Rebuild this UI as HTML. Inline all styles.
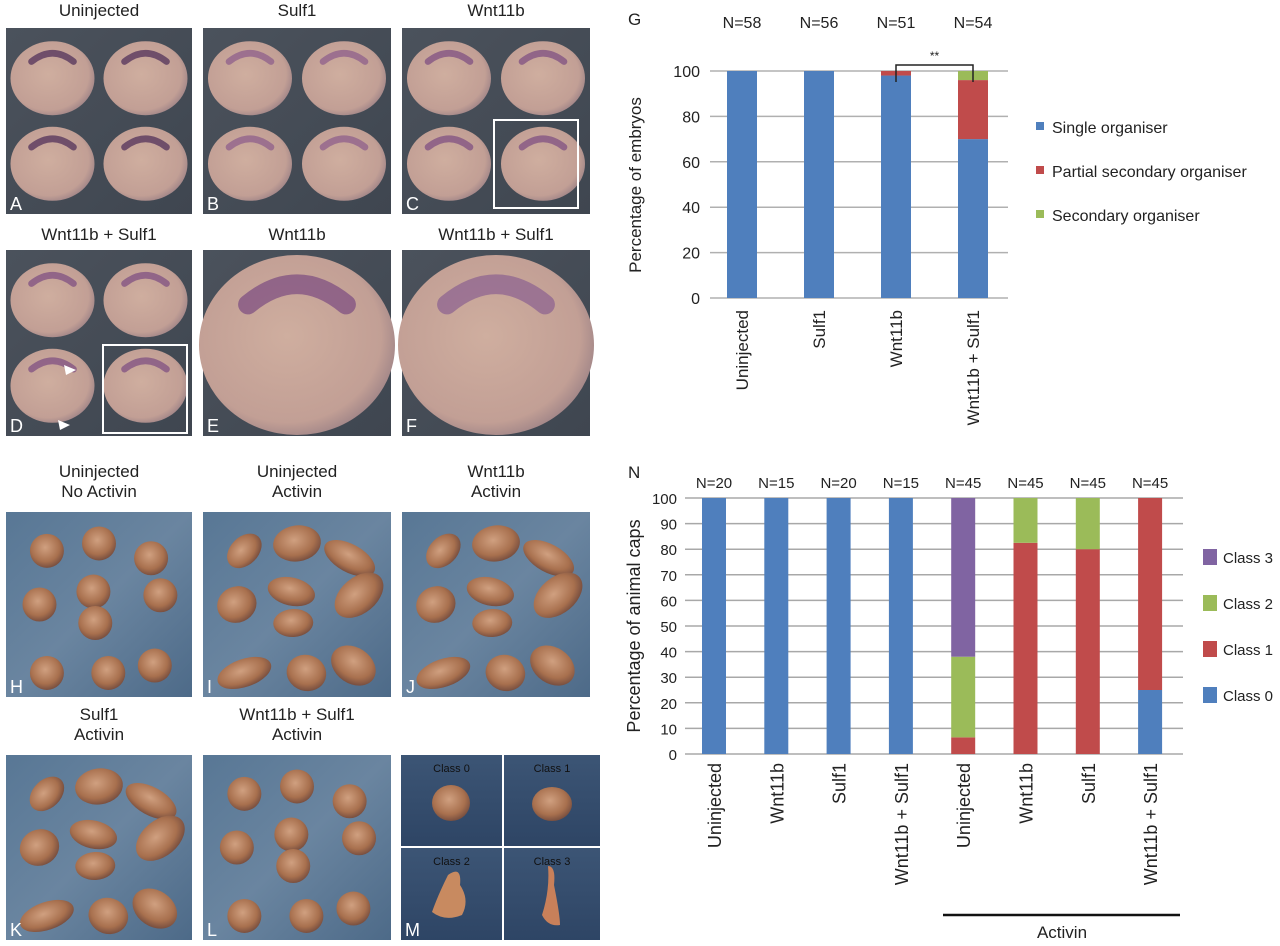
<!DOCTYPE html>
<html><head><meta charset="utf-8"><style>
html,body{margin:0;padding:0;background:#fff;}
svg{display:block;font-family:"Liberation Sans",Arial,sans-serif;}
</style></head><body>
<svg id="fig" width="1280" height="946" viewBox="0 0 1280 946" xmlns="http://www.w3.org/2000/svg">
<defs>
<radialGradient id="emb" cx="0.45" cy="0.45" r="0.6"><stop offset="0" stop-color="#cfae9f"/><stop offset="0.8" stop-color="#c29f95"/><stop offset="1" stop-color="#9a8085"/></radialGradient>
<linearGradient id="darkbg" x1="0" y1="0" x2="1" y2="1"><stop offset="0" stop-color="#4b525c"/><stop offset="1" stop-color="#3f4650"/></linearGradient>
<linearGradient id="bluebg" x1="0" y1="0" x2="1" y2="1"><stop offset="0" stop-color="#587795"/><stop offset="0.5" stop-color="#6a85a0"/><stop offset="1" stop-color="#4d6a88"/></linearGradient>
<radialGradient id="blob" cx="0.45" cy="0.4" r="0.6"><stop offset="0" stop-color="#d0a080"/><stop offset="0.7" stop-color="#a8704e"/><stop offset="1" stop-color="#7a5040"/></radialGradient>
<linearGradient id="mbg" x1="0" y1="0" x2="0" y2="1"><stop offset="0" stop-color="#3c5575"/><stop offset="1" stop-color="#2e4565"/></linearGradient>
</defs>
<g id="photos"></g>
<g id="chartG"></g>
<g id="chartN"></g>
</svg>
<script>
// ---- Chart G data ----
const gCategories = ["Uninjected","Sulf1","Wnt11b","Wnt11b + Sulf1"];
const gNs = ["N=58","N=56","N=51","N=54"];
const gSingle = [100,100,98,70];
const gPartial = [0,0,2,26];
const gSecondary = [0,0,0,4];
const gTicks = [0,20,40,60,80,100];
const gLegend = ["Single organiser","Partial secondary organiser","Secondary organiser"];
// ---- Chart N data ----
const nCategories = ["Uninjected","Wnt11b","Sulf1","Wnt11b + Sulf1","Uninjected","Wnt11b","Sulf1","Wnt11b + Sulf1"];
const nNs = ["N=20","N=15","N=20","N=15","N=45","N=45","N=45","N=45"];
const nClass0 = [100,100,100,100,0,0,0,25];
const nClass1 = [0,0,0,0,6.5,82.5,80,75];
const nClass2 = [0,0,0,0,31.5,17.5,20,0];
const nClass3 = [0,0,0,0,62,0,0,0];
const nTicks = [0,10,20,30,40,50,60,70,80,90,100];
const nLegend = ["Class 3","Class 2","Class 1","Class 0"];

const NS="http://www.w3.org/2000/svg";
function mk(parent,tag,attrs,text){const e=document.createElementNS(NS,tag);for(const k in attrs)e.setAttribute(k,attrs[k]);if(text!==undefined)e.textContent=text;parent.appendChild(e);return e;}
const BLUE="#4f7fbd",RED="#c04b4b",GREEN="#9bbb59",PURPLE="#8064a2";

// ---------- Chart G ----------
(function(){
  const g=document.getElementById('chartG');
  const x0=710,x1=1008,yTop=71,yBot=298,step=77,bw=30,cx0=742;
  const y=v=>yBot-(yBot-yTop)*v/100;
  const xc=i=>cx0+i*step;
  gTicks.forEach(t=>{
    const l=mk(g,'line',{x1:x0,x2:x1,y1:y(t),y2:y(t),stroke:'#b0b0b0','stroke-width':1.5});
    
    
    const tx=mk(g,'text',{x:700,y:y(t)+6,'text-anchor':'end','font-size':16,fill:'#222'},t);
    
    
  });
  gCategories.forEach((c,i)=>{
    let base=0;
    [[gSingle,BLUE,'single'],[gPartial,RED,'partial'],[gSecondary,GREEN,'secondary']].forEach(([arr,col,nm])=>{
      const v=arr[i]; if(v>0){
        const r=mk(g,'rect',{x:xc(i)-bw/2,y:y(base+v),width:bw,height:y(base)-y(base+v),fill:col});
        
        
      } base+=v;});
    const t=mk(g,'text',{transform:`translate(${xc(i)+6},${310}) rotate(-90)`,'text-anchor':'end','font-size':17,fill:'#222'},c);
    
    
    const n=mk(g,'text',{x:xc(i),y:28,'text-anchor':'middle','font-size':16,fill:'#222'},gNs[i]);
    
    
  });
  const at=mk(g,'text',{transform:'translate(641,185) rotate(-90)','text-anchor':'middle','font-size':17,fill:'#222'},'Percentage of embryos');
  
  
  const lt=mk(g,'text',{x:628,y:25,'font-size':17,fill:'#222'},'G');
  
  
  const br=mk(g,'path',{d:`M${xc(2)} 82 V65 H${xc(3)} V82`,fill:'none',stroke:'#222','stroke-width':1.5});
  
  
  const st=mk(g,'text',{x:(xc(2)+xc(3))/2,y:60,'text-anchor':'middle','font-size':12,fill:'#222'},'**');
  
  
  const cols=[BLUE,RED,GREEN];
  gLegend.forEach((s,i)=>{
    const yy=127+i*44;
    const r=mk(g,'rect',{x:1036,y:yy-5,width:8,height:8,fill:cols[i]});
    
    
    const t=mk(g,'text',{x:1052,y:yy+6,'font-size':16,fill:'#222'},s);
    
    
  });
})();

// ---------- Chart N ----------
(function(){
  const g=document.getElementById('chartN');
  const x0=685,x1=1183,yTop=498,yBot=754,step=62.3,bw=24,cx0=714;
  const y=v=>yBot-(yBot-yTop)*v/100;
  const xc=i=>cx0+i*step;
  nTicks.forEach(t=>{
    const l=mk(g,'line',{x1:x0,x2:x1,y1:y(t),y2:y(t),stroke:'#a8a8a8','stroke-width':1.5});
    
    
    const tx=mk(g,'text',{x:677,y:y(t)+6,'text-anchor':'end','font-size':15,fill:'#222'},t);
    
    
  });
  nCategories.forEach((c,i)=>{
    let base=0;
    [[nClass0,BLUE,'class0'],[nClass1,RED,'class1'],[nClass2,GREEN,'class2'],[nClass3,PURPLE,'class3']].forEach(([arr,col,nm])=>{
      const v=arr[i]; if(v>0){
        const r=mk(g,'rect',{x:xc(i)-bw/2,y:y(base+v),width:bw,height:y(base)-y(base+v),fill:col});
        
        
      } base+=v;});
    const t=mk(g,'text',{transform:`translate(${xc(i)+7},${763}) rotate(-90)`,'text-anchor':'end','font-size':18,fill:'#222'},c);
    
    
    const n=mk(g,'text',{x:xc(i),y:488,'text-anchor':'middle','font-size':15,fill:'#222'},nNs[i]);
    
    
  });
  const at=mk(g,'text',{transform:'translate(640,626) rotate(-90)','text-anchor':'middle','font-size':18,fill:'#222'},'Percentage of animal caps');
  
  
  const lt=mk(g,'text',{x:628,y:478,'font-size':17,fill:'#222'},'N');
  
  
  const al=mk(g,'line',{x1:943,x2:1180,y1:915,y2:915,stroke:'#111','stroke-width':2.5});
  
  
  const atx=mk(g,'text',{x:1062,y:938,'text-anchor':'middle','font-size':17,fill:'#222'},'Activin');
  
  
  const cols=[PURPLE,GREEN,RED,BLUE];
  nLegend.forEach((s,i)=>{
    const yy=557+i*46;
    const r=mk(g,'rect',{x:1203,y:yy-8,width:14,height:16,fill:cols[i]});
    
    
    const t=mk(g,'text',{x:1223,y:yy+6,'font-size':15,fill:'#222'},s);
    
    
  });
})();

// ---------- Photo panels ----------
(function(){
  const g=document.getElementById('photos');
  const cols=[[6,192],[203,391],[402,590]];
  function title(cx,yy,s,name){const t=mk(g,'text',{x:cx,y:yy,'text-anchor':'middle','font-size':17,fill:'#222'},s);}
  function letter(x,yb,s){const t=mk(g,'text',{x:x+4,y:yb-4,'font-size':18,fill:'#fff'},s);}
  function panel(x0,x1,y0,y1,fill,name){const r=mk(g,'rect',{x:x0,y:y0,width:x1-x0,height:y1-y0,fill:fill});}
  function embryo(cx,cy,rx,ry,band,name,bw){
    const e=mk(g,'ellipse',{cx:cx,cy:cy,rx:rx,ry:ry,fill:'url(#emb)'});
    
    
    mk(g,'path',{d:`M${cx-rx*0.5} ${cy-ry*0.45} Q${cx} ${cy-ry*0.9} ${cx+rx*0.5} ${cy-ry*0.45}`,fill:'none',stroke:band,'stroke-width':ry*(bw||0.18),'stroke-linecap':'round',opacity:0.7});
  }
  const tops=[["Uninjected","Sulf1","Wnt11b"],["Wnt11b + Sulf1","Wnt11b","Wnt11b + Sulf1"]];
  const rowsY=[[28,214,16],[250,436,240]];
  const bands=[['#4a2a55','#8a5a8a','#7a4a80'],['#7a4a80','#7a4a80','#8a6090']];
  const letters=[['A','B','C'],['D','E','F']];
  for(let r=0;r<2;r++)for(let c=0;c<3;c++){
    const [x0,x1]=cols[c],[y0,y1,ty]=rowsY[r];
    title((x0+x1)/2,ty,tops[r][c],'panel-title-'+letters[r][c].toLowerCase());
    panel(x0,x1,y0,y1,'url(#darkbg)','photo-'+letters[r][c].toLowerCase());
    if(r===1&&c>0){
      embryo((x0+x1)/2,y0+95,98,90,bands[r][c],'embryo-large-'+letters[r][c].toLowerCase(),0.22);
    } else {
      [[0.25,0.27],[0.75,0.27],[0.25,0.73],[0.75,0.73]].forEach((p,k)=>embryo(x0+(x1-x0)*p[0],y0+(y1-y0)*p[1],42,37,bands[r][c],'embryo-'+letters[r][c].toLowerCase()+'-'+k));
    }
    letter(x0,y1,letters[r][c]);
  }
  mk(g,'rect',{x:494,y:120,width:84,height:88,fill:'none',stroke:'#fff','stroke-width':2});
  mk(g,'rect',{x:103,y:345,width:84,height:88,fill:'none',stroke:'#fff','stroke-width':2});
  mk(g,'polygon',{points:'64,365 76,370 66,375',fill:'#fff'});
  mk(g,'polygon',{points:'58,420 70,425 60,430',fill:'#fff'});

  const bt=[[["Uninjected","No Activin"],["Uninjected","Activin"],["Wnt11b","Activin"]],[["Sulf1","Activin"],["Wnt11b + Sulf1","Activin"],null]];
  const by=[[512,697,477],[755,940,720]];
  const bl=[['H','I','J'],['K','L','M']];
  const blobsRound=[[0.22,0.21],[0.5,0.17],[0.78,0.25],[0.18,0.5],[0.47,0.43],[0.83,0.45],[0.48,0.6],[0.8,0.83],[0.22,0.87],[0.55,0.87]];
  for(let r=0;r<2;r++)for(let c=0;c<3;c++){
    const [x0,x1]=cols[c],[y0,y1,ty]=by[r];
    if(bt[r][c]){
      title((x0+x1)/2,ty,bt[r][c][0],'panel-title-'+bl[r][c].toLowerCase());
      title((x0+x1)/2,ty+20,bt[r][c][1],'panel-subtitle-'+bl[r][c].toLowerCase());
      panel(x0,x1,y0,y1,'url(#bluebg)','photo-'+bl[r][c].toLowerCase());
      const round=(bl[r][c]==='H'||bl[r][c]==='L');
      blobsRound.forEach((p,k)=>{
        const e=mk(g,'ellipse',{cx:x0+(x1-x0)*p[0],cy:y0+(y1-y0)*p[1],rx:round?17:(20+k%3*4),ry:round?17:(14+k%2*4),fill:'url(#blob)',transform:round?'':`rotate(${(k*37)%90-45} ${x0+(x1-x0)*p[0]} ${y0+(y1-y0)*p[1]})`});
        
        
      });
      letter(x0,y1,bl[r][c]);
    } else {
      panel(401,600,y0,y1,'#fff','photo-m');
      const sub=[[401,502,755,846,'Class 0'],[504,600,755,846,'Class 1'],[401,502,848,940,'Class 2'],[504,600,848,940,'Class 3']];
      sub.forEach((s,k)=>{
        mk(g,'rect',{x:s[0],y:s[2],width:s[1]-s[0],height:s[3]-s[2],fill:'url(#mbg)'});
        const t=mk(g,'text',{x:(s[0]+s[1])/2,y:s[2]+17,'text-anchor':'middle','font-size':11,fill:'#111'},s[4]);
        
        
      });
      mk(g,'ellipse',{cx:451,cy:803,rx:19,ry:18,fill:'url(#blob)'});
      mk(g,'ellipse',{cx:552,cy:804,rx:20,ry:17,fill:'url(#blob)'});
      mk(g,'path',{d:'M448 875 Q462 865 460 885 Q470 900 462 915 Q445 922 432 912 Q438 895 448 875Z',fill:'#c88a60'});
      mk(g,'path',{d:'M548 866 Q556 866 554 885 Q560 915 560 925 Q548 927 542 915 Q550 890 548 866Z',fill:'#c8805a'});
      letter(401,y1,'M');
    }
  }
})();
</script>
</body></html>
